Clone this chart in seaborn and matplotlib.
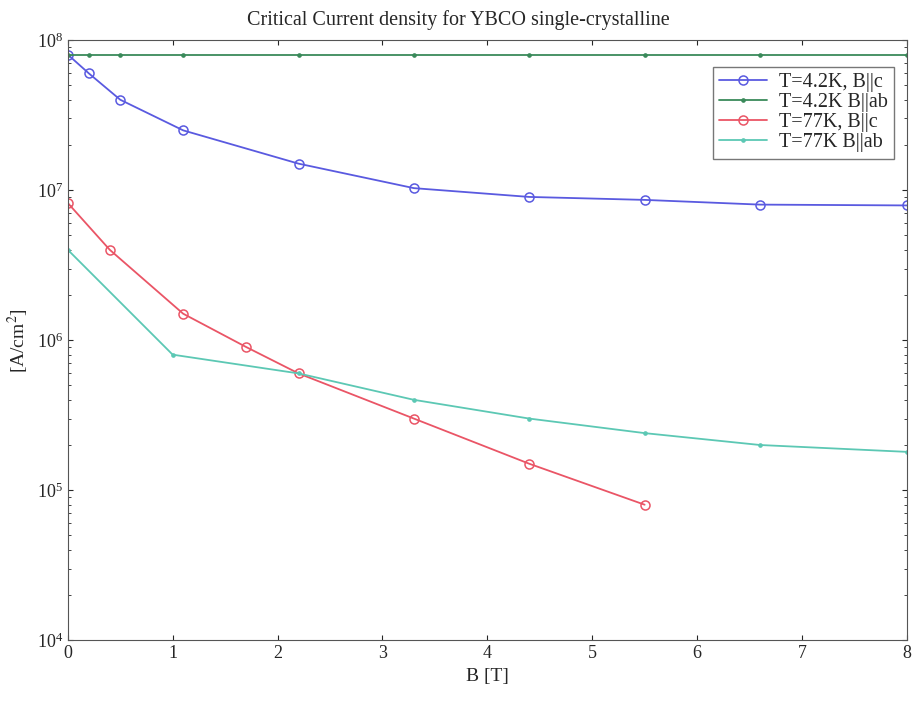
import numpy as np
import pandas as pd
import seaborn as sns
import matplotlib.pyplot as plt

sns.set_style("ticks")
plt.rcParams["font.family"] = ["Liberation Serif", "DejaVu Serif"]
plt.rcParams["mathtext.fontset"] = "stix"

# values
b_42 = [0, 0.2, 0.5, 1.1, 2.2, 3.3, 4.4, 5.5, 6.6, 8.0]
jc_42_c = [8.0e7, 6.0e7, 4.0e7, 2.5e7, 1.5e7, 1.03e7, 9.0e6, 8.6e6, 8.0e6, 7.9e6]
jc_42_ab = [8.0e7] * 10

b_77c = [0, 0.4, 1.1, 1.7, 2.2, 3.3, 4.4, 5.5]
jc_77_c = [8.2e6, 4.0e6, 1.5e6, 9.0e5, 6.0e5, 3.0e5, 1.5e5, 8.0e4]

b_77ab = [0, 1.0, 2.2, 3.3, 4.4, 5.5, 6.6, 8.0]
jc_77_ab = [4.0e6, 8.0e5, 6.0e5, 4.0e5, 3.0e5, 2.4e5, 2.0e5, 1.8e5]

labels = ["T=4.2K, B||c", "T=4.2K B||ab", "T=77K, B||c", "T=77K B||ab"]
colors = ["#5a5ae0", "#3a8a5a", "#ea5566", "#5cc8b4"]

df = pd.concat([
    pd.DataFrame({"B": b_42, "Jc": jc_42_c, "series": labels[0]}),
    pd.DataFrame({"B": b_42, "Jc": jc_42_ab, "series": labels[1]}),
    pd.DataFrame({"B": b_77c, "Jc": jc_77_c, "series": labels[2]}),
    pd.DataFrame({"B": b_77ab, "Jc": jc_77_ab, "series": labels[3]}),
])

fig = plt.figure(figsize=(9.16, 7.02), dpi=100)
ax = fig.add_axes([0.074, 0.088, 0.916, 0.855])

markers = {labels[0]: "o", labels[1]: ".", labels[2]: "o", labels[3]: "."}
for lab, col in zip(labels, colors):
    sub = df[df["series"] == lab]
    big = markers[lab] == "o"
    sns.lineplot(data=sub, x="B", y="Jc", ax=ax, color=col, label=lab,
                 marker=markers[lab], markersize=6.5 if big else 4.5,
                 markerfacecolor="none" if big else col,
                 markeredgecolor=col, markeredgewidth=1.1,
                 linewidth=1.3, estimator=None, sort=False)

ax.set_yscale("log")
ax.set_xlim(0, 8)
ax.set_ylim(1e4, 1e8)
ax.set_xticks(range(9))
ax.tick_params(direction="in", top=True, right=True, labelsize=13)
ax.tick_params(which="minor", direction="in", top=True, right=True)
ax.set_xlabel("B [T]", fontsize=14)
ax.set_ylabel("[A/cm$^2$]", fontsize=14)
fig.text(0.5, 0.985, "Critical Current density for YBCO single-crystalline",
         ha="center", va="top", fontsize=14.5)
for s in ax.spines.values():
    s.set_color("#555555")

ax.legend(loc="upper right", bbox_to_anchor=(0.985, 0.955), fontsize=14.5,
          frameon=True, fancybox=False, edgecolor="#555555",
          handlelength=2.4, borderpad=0.3, labelspacing=0.05,
          handletextpad=0.6, borderaxespad=0)

fig.savefig("out.png", dpi=100)
